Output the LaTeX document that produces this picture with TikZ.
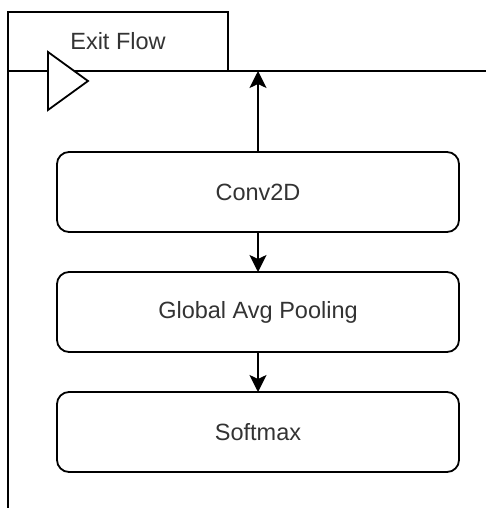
\documentclass[tikz,border=0pt]{standalone}
\usepackage{fontspec}
\setmainfont{Liberation Sans}
\usepackage{tikz}
\usetikzlibrary{arrows.meta,positioning,calc}
\definecolor{labelgray}{HTML}{333333}
\tikzset{
  layer/.style={draw, line width=1.8pt, rounded corners=12pt, minimum width=402pt,
                minimum height=80pt, outer sep=0pt, font=\fontsize{23.5}{28}\selectfont,
                text=labelgray},
  flowtab/.style={draw, line width=1.8pt, minimum width=220pt, minimum height=59pt,
                  outer sep=0pt, font=\fontsize{23.5}{28}\selectfont, text=labelgray},
  flowline/.style={line width=1.8pt},
  flowarrow/.style={-{Stealth[length=17pt,width=17pt,inset=4pt]}, line width=1.8pt}
}
\begin{document}
\begin{tikzpicture}[x=1pt, y=-1pt, node distance=40pt]
\useasboundingbox (0,0) rectangle (486,508);
% block frame with its tab
\node[flowtab, anchor=north west] (tab) at (8,12) {Exit Flow};
\coordinate (lineend) at (486,71);
\coordinate (frameend) at (8,508);
\draw[flowline] (tab.south west) -- (lineend);
\draw[flowline] (tab.north west) -- (frameend);
\draw[flowline, fill=white] (48,52) -- (88,81) -- (48,110) -- cycle;
% layers
\node[layer] (conv) at (258,192) {Conv2D};
\node[layer, below=of conv] (gap) {Global Avg Pooling};
\node[layer, below=of gap] (soft) {Softmax};
\draw[flowarrow] (conv) -- (conv.north |- tab.south);
\draw[flowarrow] (conv) -- (gap);
\draw[flowarrow] (gap) -- (soft);
\end{tikzpicture}
\end{document}
